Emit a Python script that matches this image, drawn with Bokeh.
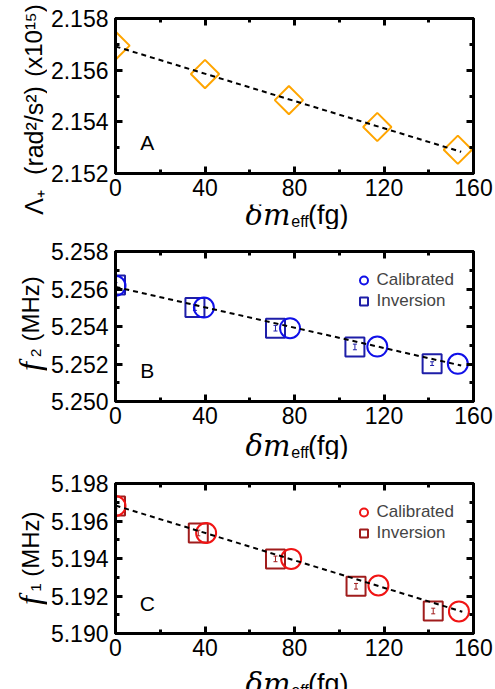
import numpy as np
from bokeh.plotting import figure
from bokeh.layouts import column, row
from bokeh.models import (LinearAxis, FixedTicker, NumeralTickFormatter, CustomJSTickFormatter,
                          Label, Legend, LegendItem, Whisker, TeeHead, ColumnDataSource, Range1d)
from bokeh.embed import file_html
from bokeh.resources import INLINE

# ---------------- data ----------------
x_ticks = [0, 40, 80, 120, 160]

a_dm = [0.0, 40.0, 77.5, 117.0, 153.0]
a_lam = [2.15695, 2.15585, 2.15484, 2.15380, 2.15292]
a_yticks = [2.152, 2.154, 2.156, 2.158]

b_dm_cal = [0.0, 39.5, 78.0, 117.0, 153.0]
b_f2_cal = [5.25617, 5.25501, 5.25391, 5.25293, 5.25201]
b_dm_inv = [0.0, 35.5, 71.5, 107.0, 141.5]
b_f2_inv = [5.25622, 5.25501, 5.25391, 5.25291, 5.25202]
b_f2_err = [0.00012, 0.00015, 0.00015, 0.00015, 0.00010]
b_yticks = [5.250, 5.252, 5.254, 5.256, 5.258]

c_dm_cal = [0.0, 40.5, 78.5, 117.5, 153.5]
c_f1_cal = [5.19680, 5.19536, 5.19398, 5.19256, 5.19118]
c_dm_inv = [0.0, 37.0, 71.5, 107.5, 142.0]
c_f1_inv = [5.19680, 5.19536, 5.19398, 5.19252, 5.19120]
c_f1_err = [0.00015, 0.00015, 0.00015, 0.00015, 0.00015]
c_yticks = [5.190, 5.192, 5.194, 5.196, 5.198]

# ---------------- layout ----------------
W = 495
LW = 47            # width of the strip that holds the rotated y label
FL, FR = 113, 473  # frame edges (page pixels)
FW = FR - FL
BB = 31            # bottom border of the main figure (tick labels)
XSHIFT = -18       # correction for the x-label strip
X_LO, X_HI = x_ticks[0], x_ticks[-1]
SANS = "Liberation Sans"


def minors(ticks):
    t = np.array(ticks, dtype=float)
    return list((t[:-1] + t[1:]) / 2)


def strip(width, height, x0, y0):
    """A blank figure whose frame fills it; data coords = page pixels (y downward)."""
    s = figure(width=width, height=height, x_range=Range1d(x0, x0 + width),
               y_range=Range1d(y0 + height, y0), output_backend="svg",
               toolbar_location=None, x_axis_location=None, y_axis_location=None,
               min_border_left=0, min_border_right=0, min_border_top=0, min_border_bottom=0)
    s.grid.visible = False
    s.outline_line_color = None
    s.background_fill_color = "white"
    s.border_fill_color = "white"
    return s


def txt(x, y, text, font, size, align="center", style="normal", angle=0.0):
    return Label(x=x, y=y, text=text, text_font=font, text_font_size=f"{size}px",
                 text_font_style=style, text_align=align, text_baseline="middle",
                 text_color="black", angle=angle)


def make_panel(g, yticks):
    lo, hi = yticks[0], yticks[-1]
    HM = g["fbot"] - g["y0"] + BB
    p = figure(width=W - LW, height=HM, x_range=(X_LO, X_HI), y_range=(lo, hi),
               output_backend="svg", toolbar_location=None,
               min_border_left=FL - LW, min_border_right=W - FR,
               min_border_top=g["ftop"] - g["y0"], min_border_bottom=BB,
               x_axis_location=None, y_axis_location=None)
    p.grid.visible = False
    p.outline_line_color = "black"
    p.outline_line_width = 3
    p.background_fill_color = "white"
    p.border_fill_color = "white"

    xt = FixedTicker(ticks=x_ticks, minor_ticks=minors(x_ticks))
    yt = FixedTicker(ticks=yticks, minor_ticks=minors(yticks))
    for side in ["below", "left", "above", "right"]:
        ax = LinearAxis(ticker=xt if side in ("below", "above") else yt)
        ax.axis_line_color = "black"
        ax.axis_line_width = 3
        ax.major_tick_in = 7
        ax.major_tick_out = 0
        ax.minor_tick_in = 4
        ax.minor_tick_out = 0
        ax.major_tick_line_width = 3
        ax.minor_tick_line_width = 3
        ax.major_tick_line_color = "black"
        ax.minor_tick_line_color = "black"
        if side in ("below", "left"):
            ax.major_label_text_font = SANS
            ax.major_label_text_font_size = "23px"
            ax.major_label_text_color = "black"
            if side == "left":
                ax.formatter = NumeralTickFormatter(format="0.000")
                ax.major_label_standoff = 7
            else:
                ax.major_label_standoff = 5
        else:
            ax.formatter = CustomJSTickFormatter(code="return ''")
            ax.major_label_text_font_size = "1px"
            ax.major_label_standoff = 0
        p.add_layout(ax, side)

    def sx(px):
        return X_LO + (px - FL) / FW * (X_HI - X_LO)

    def sy(py):
        return lo + (g["fbot"] - py) / (g["fbot"] - g["ftop"]) * (hi - lo)

    # panel letter (inside the frame)
    p.add_layout(txt(sx(145), sy(g["letter_y"]), g["letter"], SANS, 21))

    # strip under the main figure: x axis label  δm_eff (fg)
    xs = strip(W - LW, g["H"] - HM, LW, g["y0"] + HM)
    b = g["xlab_base"]
    xs.add_layout(txt(284 + XSHIFT, b + 1 - 10, "δm", "DejaVu Serif", 29, align="right",
                      style="italic"))
    xs.add_layout(txt(285 + XSHIFT, b + 4 - 6, "eff", SANS, 16, align="left"))
    xs.add_layout(txt(306 + XSHIFT, b - 9, "(fg)", SANS, 27, align="left"))

    # strip on the left: y axis label
    ys = strip(LW, g["H"], 0, g["y0"])
    return p, xs, ys


def fit_line(p, xs, ys):
    k, c = np.polyfit(xs, ys, 1)
    lx = np.array([min(xs), max(xs) + 1.5])
    p.line(lx, k * lx + c, line_color="black", line_width=2, line_dash="5 4")


def assemble(p, xs, ys):
    return row(ys, column(p, xs, spacing=0), spacing=0)


# ---------------- panel A ----------------
gA = dict(y0=0, H=229, ftop=18, fbot=173, letter="A", letter_y=142, xlab_base=223)
pA, xsA, ysA = make_panel(gA, a_yticks)
pA.scatter(a_dm, a_lam, marker="square", angle=np.pi / 4, size=20, fill_color=None,
           line_color="#FFA500", line_width=2)
fit_line(pA, a_dm, a_lam)
ysA.add_layout(txt(33, 202, "Λ₊", SANS, 25, angle=np.pi / 2))
ysA.add_layout(txt(33, 130, "(rad²/s²)", SANS, 25, angle=np.pi / 2))
ysA.add_layout(txt(33, 40, "(x10¹⁵)", SANS, 24, angle=np.pi / 2))
panelA = assemble(pA, xsA, ysA)


def freq_panel(g, yticks, dm_cal, f_cal, dm_inv, f_inv, f_err, c_cal, c_inv, sub):
    p, xs, ys = make_panel(g, yticks)
    r_inv = p.scatter(dm_inv, f_inv, marker="square", size=19, fill_color=None,
                      line_color=c_inv, line_width=2)
    src = ColumnDataSource(dict(x=dm_inv, upper=list(np.array(f_inv) + np.array(f_err)),
                                lower=list(np.array(f_inv) - np.array(f_err))))
    p.add_layout(Whisker(base="x", upper="upper", lower="lower", source=src,
                         line_color=c_inv, line_width=1,
                         upper_head=TeeHead(size=4, line_color=c_inv, line_width=1),
                         lower_head=TeeHead(size=4, line_color=c_inv, line_width=1)))
    r_cal = p.scatter(dm_cal, f_cal, marker="circle", size=20, fill_color=None,
                      line_color=c_cal, line_width=2)
    fit_line(p, dm_cal, f_cal)
    leg = Legend(items=[LegendItem(label="Calibrated", renderers=[r_cal]),
                        LegendItem(label="Inversion", renderers=[r_inv])],
                 location="top_right", margin=10, padding=9, spacing=1,
                 glyph_width=20, glyph_height=20, label_height=20, label_standoff=3,
                 label_text_font=SANS, label_text_font_size="17px",
                 border_line_alpha=0, background_fill_alpha=0)
    p.add_layout(leg)
    # y label: f_n (MHz)
    fy = g["f_y"]
    ys.add_layout(txt(29, fy, "f", "Liberation Serif", 32, style="italic", angle=np.pi / 2))
    ys.add_layout(txt(30, fy - 9, sub + " (MHz)", SANS, 24, align="left", angle=np.pi / 2))
    return assemble(p, xs, ys)


gB = dict(y0=229, H=230, ftop=251, fbot=401, letter="B", letter_y=370, xlab_base=454, f_y=366)
panelB = freq_panel(gB, b_yticks, b_dm_cal, b_f2_cal, b_dm_inv, b_f2_inv, b_f2_err,
                    "#1010E8", "#1E1EA8", "₂")

gC = dict(y0=459, H=230, ftop=483, fbot=633, letter="C", letter_y=603, xlab_base=692, f_y=600)
panelC = freq_panel(gC, c_yticks, c_dm_cal, c_f1_cal, c_dm_inv, c_f1_inv, c_f1_err,
                    "#F01414", "#A01C1C", "₁")

layout = column(panelA, panelB, panelC, spacing=0)
open("out.html", "w").write(file_html(layout, INLINE))
